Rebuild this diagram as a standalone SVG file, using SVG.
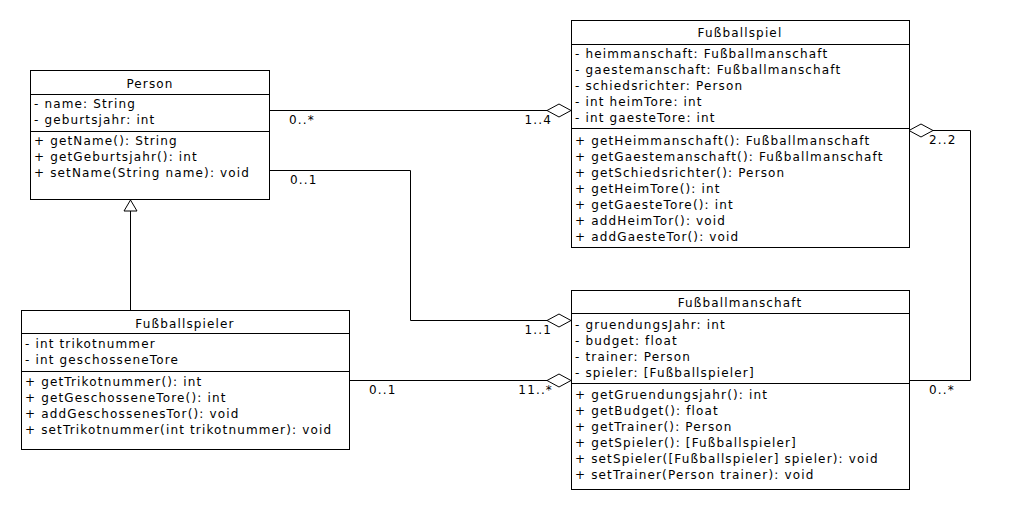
<svg xmlns="http://www.w3.org/2000/svg" width="1010" height="510" viewBox="0 0 1010 510">
<style>
.box{fill:#fff;stroke:#000;stroke-width:1}
.div{stroke:#000;stroke-width:1}
text{font-family:"DejaVu Sans",sans-serif;font-size:12px;letter-spacing:1.15px;fill:#000}
.t{text-anchor:middle}
.e{text-anchor:end}
.c{fill:none;stroke:#000;stroke-width:1}
.dia{fill:#fff;stroke:#000;stroke-width:1}
</style>
<rect width="1010" height="510" fill="#fff"/>
<g id="connectors">
<path class="c" d="M269.5 110.5H547"/>
<polygon class="dia" points="571,110.5 559,104 547,110.5 559,117"/>
<path class="c" d="M269.5 170.5H410.5V320.5H547"/>
<polygon class="dia" points="571,320.5 559,314 547,320.5 559,327"/>
<path class="c" d="M349.5 380.5H547"/>
<polygon class="dia" points="571,380.5 559,374 547,380.5 559,387"/>
<path class="c" d="M933 130.5H970.5V380.5H909.5"/>
<polygon class="dia" points="909,130.5 921,124 933,130.5 921,137"/>
<path class="c" d="M130.5 310V211"/>
<polygon class="dia" points="130.5,200 124,211 137,211"/>
<text x="289" y="124">0..*</text>
<text class="e" x="552" y="124">1..4</text>
<text x="290" y="184">0..1</text>
<text class="e" x="552" y="334">1..1</text>
<text x="369" y="394">0..1</text>
<text class="e" x="553" y="394">11..*</text>
<text x="929" y="144">2..2</text>
<text x="929" y="394">0..*</text>
</g>
<g id="Person">
<rect class="box" x="30.5" y="70.5" width="239" height="129"/>
<path class="div" d="M30.5 94.5H269.5M30.5 131.5H269.5"/>
<text class="t" x="150" y="88">Person</text>
<text x="34" y="108">- name: String</text>
<text x="34" y="124">- geburtsjahr: int</text>
<text x="34" y="145">+ getName(): String</text>
<text x="34" y="161">+ getGeburtsjahr(): int</text>
<text x="34" y="177">+ setName(String name): void</text>
</g>
<g id="Fussballspiel">
<rect class="box" x="571.5" y="20.5" width="338" height="227"/>
<path class="div" d="M571.5 44.5H909.5M571.5 128.5H909.5"/>
<text class="t" x="740" y="37">Fußballspiel</text>
<text x="575" y="58">- heimmanschaft: Fußballmanschaft</text>
<text x="575" y="74">- gaestemanschaft: Fußballmanschaft</text>
<text x="575" y="90">- schiedsrichter: Person</text>
<text x="575" y="106">- int heimTore: int</text>
<text x="575" y="122">- int gaesteTore: int</text>
<text x="575" y="145">+ getHeimmanschaft(): Fußballmanschaft</text>
<text x="575" y="161">+ getGaestemanschaft(): Fußballmanschaft</text>
<text x="575" y="177">+ getSchiedsrichter(): Person</text>
<text x="575" y="193">+ getHeimTore(): int</text>
<text x="575" y="209">+ getGaesteTore(): int</text>
<text x="575" y="225">+ addHeimTor(): void</text>
<text x="575" y="241">+ addGaesteTor(): void</text>
</g>
<g id="Fussballspieler">
<rect class="box" x="21.5" y="310.5" width="328" height="139"/>
<path class="div" d="M21.5 333.5H349.5M21.5 371.5H349.5"/>
<text class="t" x="185" y="328">Fußballspieler</text>
<text x="25" y="348">- int trikotnummer</text>
<text x="25" y="364">- int geschosseneTore</text>
<text x="25" y="386">+ getTrikotnummer(): int</text>
<text x="25" y="402">+ getGeschosseneTore(): int</text>
<text x="25" y="418">+ addGeschossenesTor(): void</text>
<text x="25" y="434">+ setTrikotnummer(int trikotnummer): void</text>
</g>
<g id="Fussballmanschaft">
<rect class="box" x="571.5" y="290.5" width="338" height="199"/>
<path class="div" d="M571.5 313.5H909.5M571.5 383.5H909.5"/>
<text class="t" x="740" y="307">Fußballmanschaft</text>
<text x="575" y="329">- gruendungsJahr: int</text>
<text x="575" y="345">- budget: float</text>
<text x="575" y="361">- trainer: Person</text>
<text x="575" y="377">- spieler: [Fußballspieler]</text>
<text x="575" y="399">+ getGruendungsjahr(): int</text>
<text x="575" y="415">+ getBudget(): float</text>
<text x="575" y="431">+ getTrainer(): Person</text>
<text x="575" y="447">+ getSpieler(): [Fußballspieler]</text>
<text x="575" y="463">+ setSpieler([Fußballspieler] spieler): void</text>
<text x="575" y="479">+ setTrainer(Person trainer): void</text>
</g>
</svg>
